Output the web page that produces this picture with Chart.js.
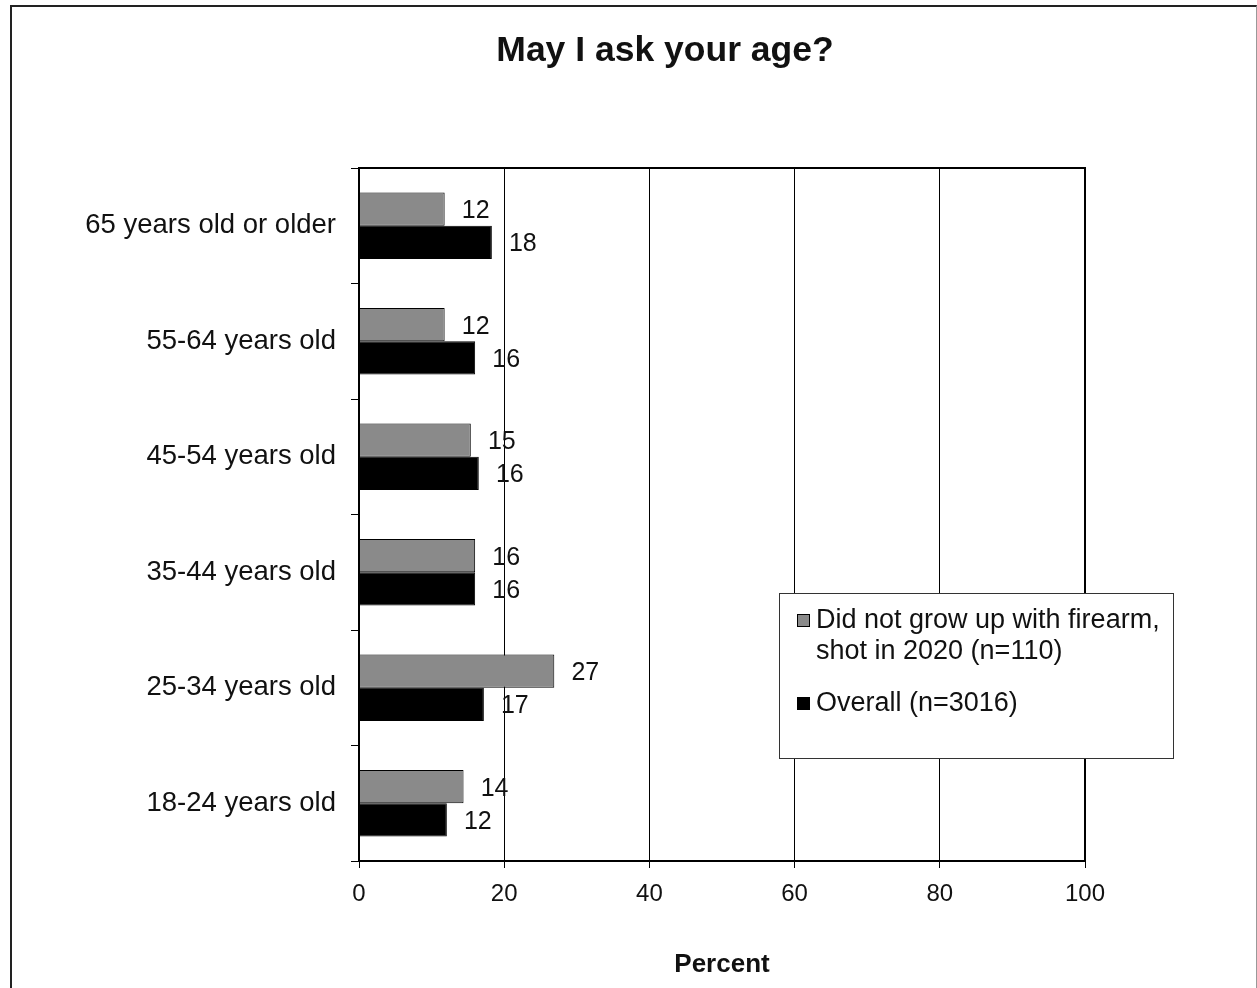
<!DOCTYPE html>
<html>
<head>
<meta charset="utf-8">
<script src="https://cdn.jsdelivr.net/npm/chart.js@4/dist/chart.umd.min.js"></script>
<style>
  html, body { margin:0; padding:0; background:#fff; }
  #wrap { position:relative; width:1257px; height:988px; }
  #frame { position:absolute; left:10px; top:5px; width:1244px; height:990px;
    border-top:2px solid #222; border-left:2px solid #222; border-right:1px solid #999; }
  canvas { position:absolute; left:0; top:0; }
</style>
</head>
<body>
<div id="wrap">
  <div id="frame"></div>
  <canvas id="chart" width="1257" height="988"></canvas>
</div>
<script>
const categories = ['65 years old or older','55-64 years old','45-54 years old','35-44 years old','25-34 years old','18-24 years old'];
// bar lengths
const didNotGrowUp = [11.8, 11.8, 15.4, 16.0, 26.9, 14.4];
const overall = [18.3, 16.0, 16.5, 16.0, 17.2, 12.1];
// numbers printed beside the bars
const didNotGrowUpLabels = [12, 12, 15, 16, 27, 14];
const overallLabels = [18, 16, 16, 16, 17, 12];
const seriesNames = ['Did not grow up with firearm,\nshot in 2020 (n=110)', 'Overall (n=3016)'];
const xTicks = [0, 20, 40, 60, 80, 100];
const FONT = 'Arial, "Liberation Sans", sans-serif';

// title drawn centred over the page, not the chart area
const titlePlugin = {
  id: 'titlePlugin',
  afterDraw(chart) {
    const ctx = chart.ctx;
    ctx.save();
    ctx.font = 'bold 35.5px ' + FONT;
    ctx.fillStyle = '#111';
    ctx.textAlign = 'center';
    ctx.textBaseline = 'middle';
    ctx.fillText('May I ask your age?', 665, 51);
    ctx.restore();
  }
};

// value labels next to each bar end
const valueLabels = {
  id: 'valueLabels',
  afterDatasetsDraw(chart) {
    const ctx = chart.ctx;
    ctx.save();
    ctx.font = '25px ' + FONT;
    ctx.fillStyle = '#111';
    ctx.textAlign = 'center';
    ctx.textBaseline = 'middle';
    chart.data.datasets.forEach((ds, i) => {
      chart.getDatasetMeta(i).data.forEach((bar, j) => {
        ctx.fillText(ds.shown[j], bar.x + 31, bar.y + 2);
      });
    });
    ctx.restore();
  }
};

// frame round the plot area + legend box inside it
const plotBox = {
  id: 'plotBox',
  afterDraw(chart) {
    const ctx = chart.ctx;
    const a = chart.chartArea;
    ctx.save();
    ctx.strokeStyle = '#000';
    ctx.lineWidth = 2;
    ctx.strokeRect(a.left, a.top, a.right - a.left, a.bottom - a.top);

    // legend
    const lx = 779, ly = 593, lw = 394, lh = 165;
    ctx.fillStyle = '#fff';
    ctx.fillRect(lx, ly, lw, lh);
    ctx.lineWidth = 1;
    ctx.strokeStyle = '#333';
    ctx.strokeRect(lx + 0.5, ly + 0.5, lw, lh);
    ctx.font = '27px ' + FONT;
    ctx.textBaseline = 'middle';
    ctx.textAlign = 'left';
    let y = 621;
    chart.data.datasets.forEach((ds, i) => {
      ctx.fillStyle = ds.backgroundColor;
      ctx.fillRect(797, y - 7, 13, 13);
      ctx.strokeStyle = '#000';
      ctx.strokeRect(797.5, y - 6.5, 12, 12);
      ctx.fillStyle = '#111';
      const lines = seriesNames[i].split('\n');
      lines.forEach((t, k) => ctx.fillText(t, 816, y + k * 31));
      y += (lines.length - 1) * 31 + 52;
    });
    ctx.restore();
  }
};

new Chart(document.getElementById('chart'), {
  type: 'bar',
  data: {
    labels: categories,
    datasets: [
      { label: seriesNames[0].replace('\n', ' '), data: didNotGrowUp, shown: didNotGrowUpLabels,
        backgroundColor: '#8a8a8a', borderColor: '#000', borderWidth: 1,
        categoryPercentage: 0.575, barPercentage: 1 },
      { label: seriesNames[1], data: overall, shown: overallLabels,
        backgroundColor: '#000', borderColor: '#000', borderWidth: 1,
        categoryPercentage: 0.575, barPercentage: 1 }
    ]
  },
  options: {
    indexAxis: 'y',
    responsive: false,
    animation: false,
    layout: { padding: { left: 0, right: 172, top: 168, bottom: 0 } },
    plugins: {
      legend: { display: false },
      tooltip: { enabled: false },
      title: { display: false }
    },
    scales: {
      x: {
        min: xTicks[0], max: xTicks[xTicks.length - 1],
        afterBuildTicks(scale) { scale.ticks = xTicks.map(v => ({ value: v })); },
        ticks: { color: '#111', padding: 12, font: { family: FONT, size: 24 } },
        grid: { color: '#000', lineWidth: 1, tickLength: 7, drawTicks: true },
        border: { color: '#000', width: 2 },
        title: { display: true, text: 'Percent', color: '#111',
          font: { family: FONT, size: 26, weight: 'bold' }, padding: { top: 0, bottom: 8 } },
        afterFit(scale) { scale.height = 127; }
      },
      y: {
        ticks: { color: '#111', padding: 15, font: { family: FONT, size: 27.5 } },
        grid: { drawOnChartArea: false, color: '#000', tickLength: 8 },
        border: { color: '#000', width: 2 },
        afterFit(scale) { scale.width = 359; }
      }
    }
  },
  plugins: [valueLabels, plotBox, titlePlugin]
});
</script>
</body>
</html>
